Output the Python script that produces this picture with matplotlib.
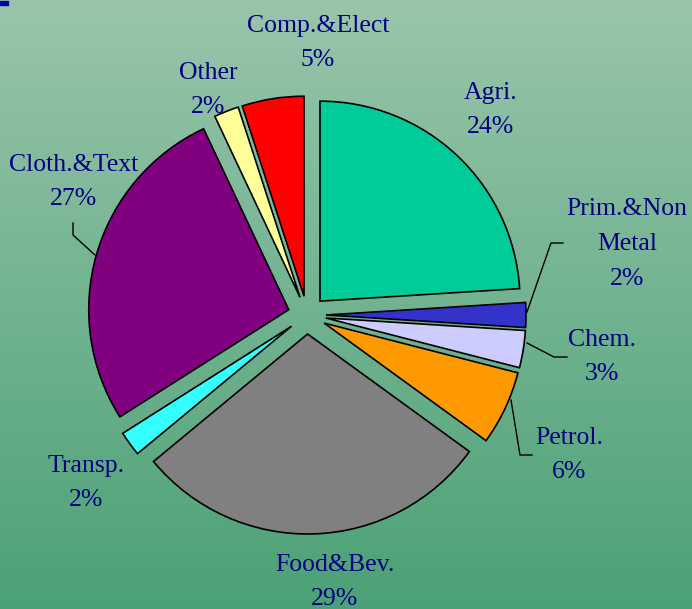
import numpy as np
import matplotlib
matplotlib.use("Agg")
import matplotlib.pyplot as plt
from matplotlib.colors import LinearSegmentedColormap

# data
sectors = ["Agri.", "Prim.&Non\nMetal", "Chem.", "Petrol.", "Food&Bev.",
           "Transp.", "Cloth.&Text", "Other", "Comp.&Elect"]
shares = [24, 2, 3, 6, 29, 2, 27, 2, 5]
colors = ["#00CC99", "#3333CC", "#CCCCFF", "#FF9900", "#808080",
          "#33FFFF", "#800080", "#FFFF99", "#FF0000"]

W, H = 692, 609
CX, CY, R = 307, 315, 200  # pie centre / radius in pixels


def px(x, y):
    # pixel (y down) -> data units of the pie axes
    return (x - CX) / R, (CY - y) / R


# label centres (pixels) and leader lines
label_pos = [(491, 110), (627, 244), (602, 357), (569, 455), (335, 582),
             (86, 483), (74, 182), (208, 90), (318, 43)]
leaders = {
    1: [(563, 243), (551, 243), (527, 312)],
    2: [(567, 357), (554, 357), (527, 343)],
    3: [(532, 455), (520, 455), (511, 400)],
    6: [(73, 223), (73, 235), (95, 255)],
}

fig = plt.figure(figsize=(W / 100, H / 100), dpi=100)

# background gradient
bg = fig.add_axes([0, 0, 1, 1])
grad = np.linspace(0, 1, 256).reshape(-1, 1)
cmap = LinearSegmentedColormap.from_list("bg", ["#99C5AB", "#4BA176"])
bg.imshow(grad, aspect="auto", cmap=cmap, extent=[0, 1, 0, 1])
bg.add_patch(plt.Rectangle((0, 1 - 5 / H), 8 / W, 4 / H, color="#0000AA"))
bg.set_xlim(0, 1)
bg.set_ylim(0, 1)
bg.axis("off")

ax = fig.add_axes([0, 0, 1, 1])
ax.patch.set_alpha(0)
ax.pie(shares, colors=colors, startangle=90, counterclock=False,
       explode=[0.095] * len(shares), radius=1,
       wedgeprops=dict(edgecolor="black", linewidth=1.2))
ax.set_aspect("auto")
ax.set_xlim(-CX / R, (W - CX) / R)
ax.set_ylim(-(H - CY) / R, CY / R)
ax.axis("off")

for i, (name, val) in enumerate(zip(sectors, shares)):
    x, y = px(*label_pos[i])
    ax.text(x, y, f"{name}\n{val}%", ha="center", va="center",
            fontsize=18.5, family="Liberation Serif", color="#000080",
            linespacing=1.75)

for i, pts in leaders.items():
    xy = np.array([px(*p) for p in pts])
    ax.plot(xy[:, 0], xy[:, 1], color="black", linewidth=1)

fig.savefig("out.png", dpi=100)
